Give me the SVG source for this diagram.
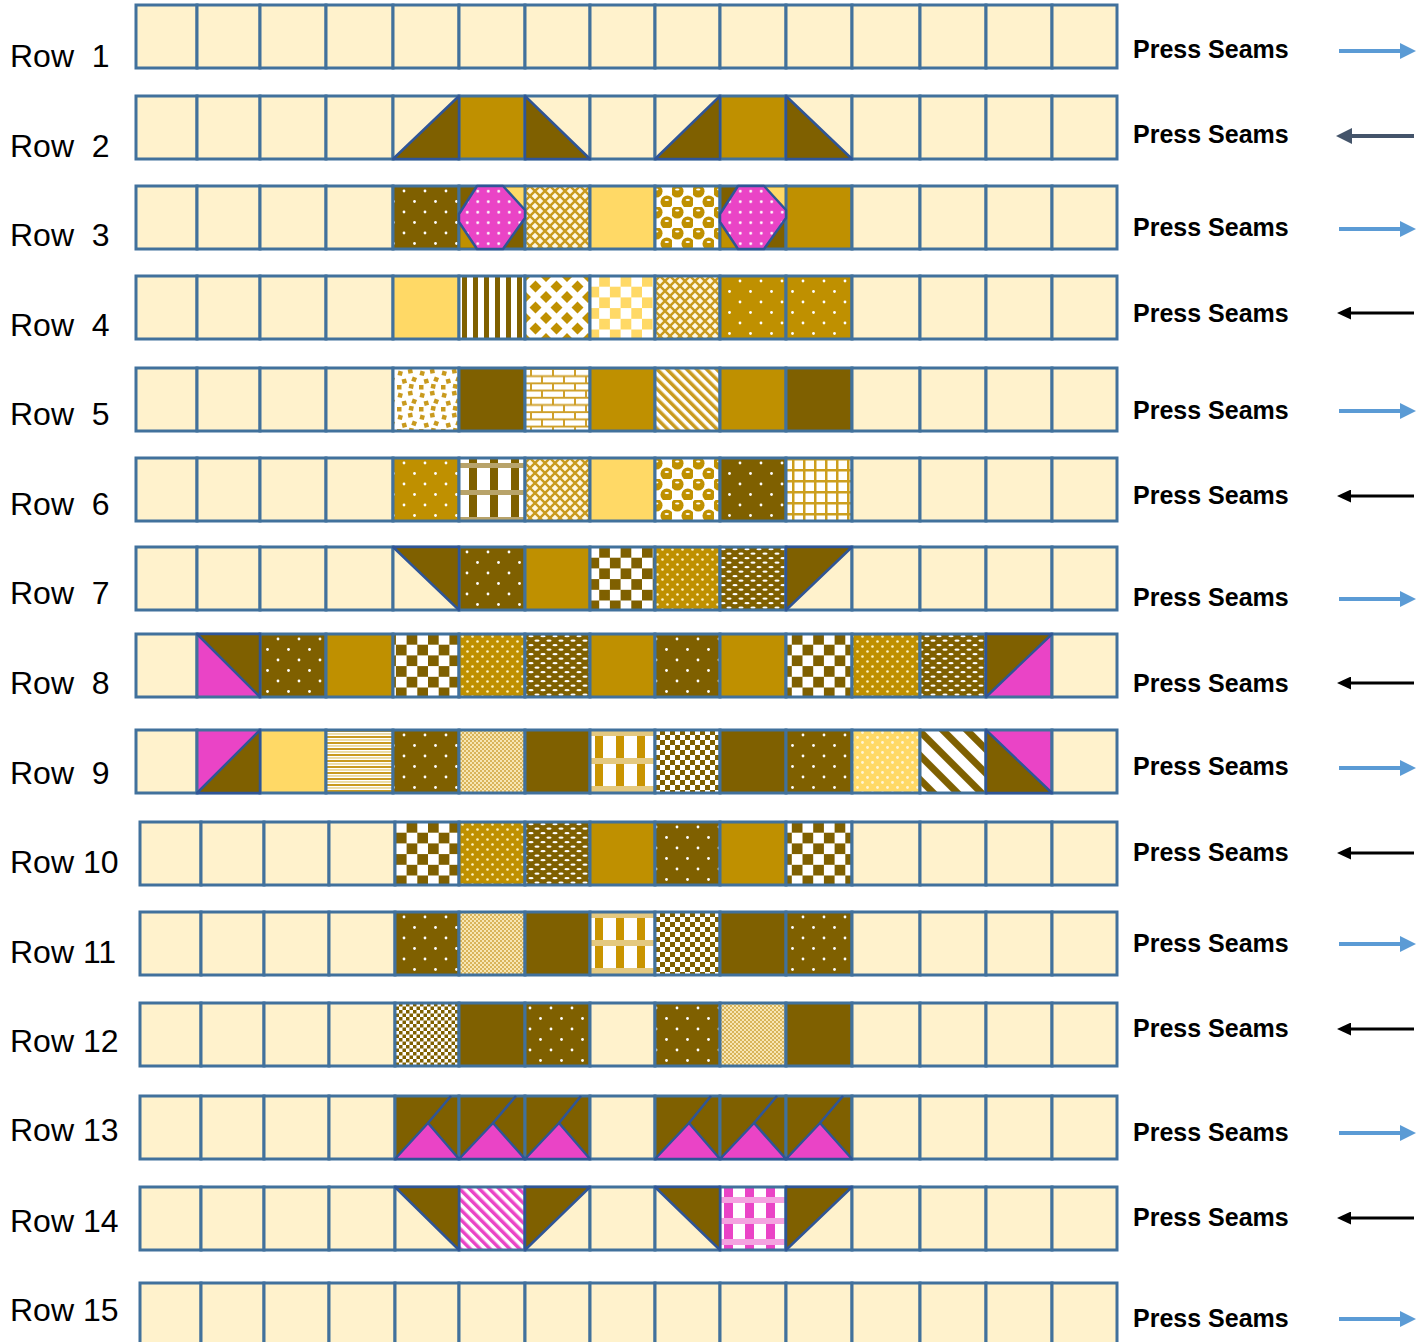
<svg xmlns="http://www.w3.org/2000/svg" width="1427" height="1342" viewBox="0 0 1427 1342">
<style>
.c{fill:#FFF2CC;stroke:#41719C;stroke-width:3}
.sD{fill:#7F6000}.sG{fill:#BF9000}.sY{fill:#FFD966}.sP{fill:#EA44C6}
.dD{fill:url(#p-dD)}.dG{fill:url(#p-dG)}.ddG{fill:url(#p-ddG)}.ov{fill:url(#p-ov)}
.ck{fill:url(#p-ck)}.cks{fill:url(#p-cks)}.ckx{fill:url(#p-ckx)}.fc{fill:url(#p-fc)}
.cr{fill:url(#p-cr)}.bb{fill:url(#p-bb)}.vs{fill:url(#p-vs)}.dm{fill:url(#p-dm)}
.yc{fill:url(#p-yc)}.cf{fill:url(#p-cf)}.br{fill:url(#p-br)}.sg{fill:url(#p-sg)}
.pl{fill:url(#p-pl)}.gr{fill:url(#p-gr)}.hs{fill:url(#p-hs)}.pg{fill:url(#p-pg)}
.dy{fill:url(#p-dy)}.sd{fill:url(#p-sd)}.pst{fill:url(#p-pst)}.pp{fill:url(#p-pp)}
.t{stroke:#2F5597;stroke-width:2.5;stroke-linejoin:round}
.tD{fill:#7F6000}.tP{fill:#EA44C6}.tY{fill:#FFD966}.tG{fill:#BF9000}.tS{fill:url(#p-sn)}
.ln{stroke:#2F5597;stroke-width:2.5}
.lbl{font-family:"Liberation Sans",Arial,sans-serif;font-size:32px;fill:#000}
.press{font-family:"Liberation Sans",Arial,sans-serif;font-weight:bold;font-size:25px;fill:#000}
.ab{stroke:#5B9BD5;stroke-width:4;fill:none;marker-end:url(#m-blue)}
.as{stroke:#44546A;stroke-width:4;fill:none;marker-end:url(#m-slate)}
.ak{stroke:#000;stroke-width:3;fill:none;marker-end:url(#m-black)}
</style>
<defs>
<marker id="m-blue" markerUnits="userSpaceOnUse" markerWidth="16" markerHeight="16" refX="0" refY="8" orient="auto"><path d="M0,0 L16,8 L0,16 Z" fill="#5B9BD5"/></marker>
<marker id="m-slate" markerUnits="userSpaceOnUse" markerWidth="16" markerHeight="16" refX="0" refY="8" orient="auto"><path d="M0,0 L16,8 L0,16 Z" fill="#44546A"/></marker>
<marker id="m-black" markerUnits="userSpaceOnUse" markerWidth="14" markerHeight="13" refX="0" refY="6.5" orient="auto"><path d="M0,0 L14,6.5 L0,13 Z" fill="#000"/></marker>
<pattern id="p-dD" width="21" height="21" patternUnits="userSpaceOnUse"><rect width="21" height="21" fill="#7F6000"/><circle cx="5" cy="5" r="1.4" fill="#FFF"/><circle cx="15.5" cy="15.5" r="1.4" fill="#FFF"/></pattern>
<pattern id="p-dG" width="21" height="21" patternUnits="userSpaceOnUse"><rect width="21" height="21" fill="#BF9000"/><circle cx="5" cy="5" r="1.4" fill="#FFF"/><circle cx="15.5" cy="15.5" r="1.4" fill="#FFF"/></pattern>
<pattern id="p-ddG" width="10" height="10" patternUnits="userSpaceOnUse"><rect width="10" height="10" fill="#BF9000"/><circle cx="2.5" cy="2.5" r="1.3" fill="#FFF3C4"/><circle cx="7.5" cy="7.5" r="1.3" fill="#FFF3C4"/></pattern>
<pattern id="p-ov" width="12" height="9" patternUnits="userSpaceOnUse"><rect width="12" height="9" fill="#7F6000"/><ellipse cx="3" cy="2.2" rx="2.6" ry="1.1" fill="#FFF"/><ellipse cx="9" cy="6.7" rx="2.6" ry="1.1" fill="#FFF"/></pattern>
<pattern id="p-ck" width="21.4" height="21.4" patternUnits="userSpaceOnUse"><rect width="21.4" height="21.4" fill="#FFF"/><rect width="10.7" height="10.7" fill="#7F6000"/><rect x="10.7" y="10.7" width="10.7" height="10.7" fill="#7F6000"/></pattern>
<pattern id="p-cks" width="10" height="10" patternUnits="userSpaceOnUse"><rect width="10" height="10" fill="#FFF"/><rect width="5" height="5" fill="#7F6000"/><rect x="5" y="5" width="5" height="5" fill="#7F6000"/></pattern>
<pattern id="p-ckx" width="7" height="7" patternUnits="userSpaceOnUse"><rect width="7" height="7" fill="#FFF"/><rect width="3.5" height="3.5" fill="#7F6000"/><rect x="3.5" y="3.5" width="3.5" height="3.5" fill="#7F6000"/></pattern>
<pattern id="p-fc" width="4" height="4" patternUnits="userSpaceOnUse"><rect width="4" height="4" fill="#F7E6B4"/><rect width="2" height="2" fill="#D9B45A"/><rect x="2" y="2" width="2" height="2" fill="#D9B45A"/></pattern>
<pattern id="p-cr" width="10" height="10" patternUnits="userSpaceOnUse"><rect width="10" height="10" fill="#FFF7E0"/><path d="M0,0 L10,10 M10,0 L0,10" stroke="#C99A1E" stroke-width="2.4"/></pattern>
<pattern id="p-bb" width="21" height="21" patternUnits="userSpaceOnUse"><rect width="21" height="21" fill="#FFF"/><circle cx="5.25" cy="5.25" r="6.3" fill="#BF9000"/><circle cx="15.75" cy="15.75" r="6.3" fill="#BF9000"/><ellipse cx="5.25" cy="3.4" rx="2.2" ry="1" fill="#FFF"/><ellipse cx="15.75" cy="13.9" rx="2.2" ry="1" fill="#FFF"/></pattern>
<pattern id="p-vs" width="11" height="11" patternUnits="userSpaceOnUse"><rect width="11" height="11" fill="#FFF"/><rect width="5" height="11" fill="#7F6000"/></pattern>
<pattern id="p-dm" width="21" height="21" patternUnits="userSpaceOnUse"><rect width="21" height="21" fill="#FFF"/><path d="M10.5,4.5 L16.5,10.5 L10.5,16.5 L4.5,10.5Z M0,-6 L6,0 L0,6 L-6,0Z M21,-6 L27,0 L21,6 L15,0Z M0,15 L6,21 L0,27 L-6,21Z M21,15 L27,21 L21,27 L15,21Z" fill="#BF9000"/></pattern>
<pattern id="p-yc" width="21.4" height="21.4" patternUnits="userSpaceOnUse"><rect width="21.4" height="21.4" fill="#FFF"/><rect width="10.7" height="10.7" fill="#FFD966"/><rect x="10.7" y="10.7" width="10.7" height="10.7" fill="#FFD966"/></pattern>
<pattern id="p-cf" width="22" height="22" patternUnits="userSpaceOnUse"><rect width="22" height="22" fill="#FFF"/><g fill="#C99A1E"><rect x="2" y="3" width="4.5" height="4.5" transform="rotate(15 4 5)"/><rect x="12" y="1" width="4.5" height="4.5" transform="rotate(-10 14 3)"/><rect x="16" y="9" width="4.5" height="4.5" transform="rotate(20 18 11)"/><rect x="6" y="11" width="4.5" height="4.5" transform="rotate(-15 8 13)"/><rect x="13" y="16" width="4.5" height="4.5" transform="rotate(10 15 18)"/><rect x="1" y="17" width="4.5" height="4.5"/></g></pattern>
<pattern id="p-br" width="22" height="14.4" patternUnits="userSpaceOnUse"><rect width="22" height="14.4" fill="#FFF"/><path d="M0,1 H22 M0,8.2 H22 M3,1 V8.2 M14,8.2 V14.4" stroke="#CFA02A" stroke-width="2"/></pattern>
<pattern id="p-sg" width="7" height="7" patternUnits="userSpaceOnUse" patternTransform="rotate(-45)"><rect width="7" height="7" fill="#FFF"/><rect width="3.5" height="7" fill="#C99A1E"/></pattern>
<pattern id="p-pl" width="21" height="27" patternUnits="userSpaceOnUse"><rect width="21" height="27" fill="#FFF"/><rect x="7" width="8" height="27" fill="#7F6000"/><rect y="5" width="21" height="5" fill="#B8A36A"/></pattern>
<pattern id="p-gr" width="11" height="11" patternUnits="userSpaceOnUse"><rect width="11" height="11" fill="#FFF"/><rect width="2.5" height="11" fill="#CC9E1E"/><rect width="11" height="2.5" fill="#CC9E1E"/></pattern>
<pattern id="p-hs" width="6" height="6" patternUnits="userSpaceOnUse"><rect width="6" height="6" fill="#FFF"/><rect width="6" height="2" fill="#C99A1E"/><rect y="3.2" width="6" height="1.5" fill="#E8D38E"/></pattern>
<pattern id="p-pg" width="21" height="28" patternUnits="userSpaceOnUse"><rect width="21" height="28" fill="#FFF"/><rect x="7" width="8" height="28" fill="#C99400"/><rect y="0" width="21" height="6" fill="#E4C980"/></pattern>
<pattern id="p-dy" width="10" height="10" patternUnits="userSpaceOnUse"><rect width="10" height="10" fill="#FFD966"/><circle cx="2.5" cy="2.5" r="1.4" fill="#FFF6D5"/><circle cx="7.5" cy="7.5" r="1.4" fill="#FFF6D5"/></pattern>
<pattern id="p-sd" width="17" height="17" patternUnits="userSpaceOnUse" patternTransform="rotate(-45)"><rect width="17" height="17" fill="#FFF"/><rect width="7" height="17" fill="#7F6000"/></pattern>
<pattern id="p-pst" width="7" height="7" patternUnits="userSpaceOnUse" patternTransform="rotate(-45)"><rect width="7" height="7" fill="#FFF"/><rect width="3.5" height="7" fill="#EA44C6"/></pattern>
<pattern id="p-pp" width="21" height="21" patternUnits="userSpaceOnUse"><rect width="21" height="21" fill="#FFF"/><rect x="10" width="9" height="21" fill="#EA44C6"/><rect y="10" width="21" height="6" fill="#F4A3E0"/></pattern>
<pattern id="p-sn" width="10.5" height="10.5" patternUnits="userSpaceOnUse"><rect width="10.5" height="10.5" fill="#EA44C6"/><circle cx="5.25" cy="5.25" r="1.4" fill="#FFF"/></pattern>
</defs>
<rect width="1427" height="1342" fill="#FFF"/>

<g id="row-1" transform="translate(0,5)">
<rect class="c" x="136" width="61" height="63"/><rect class="c" x="197" width="63" height="63"/><rect class="c" x="260" width="66" height="63"/><rect class="c" x="326" width="67" height="63"/><rect class="c" x="393" width="66" height="63"/><rect class="c" x="459" width="66" height="63"/><rect class="c" x="525" width="65" height="63"/><rect class="c" x="590" width="65" height="63"/><rect class="c" x="655" width="65" height="63"/><rect class="c" x="720" width="66" height="63"/><rect class="c" x="786" width="66" height="63"/><rect class="c" x="852" width="68" height="63"/><rect class="c" x="920" width="66" height="63"/><rect class="c" x="986" width="66" height="63"/><rect class="c" x="1052" width="65" height="63"/>
</g>

<g id="row-2" transform="translate(0,96)">
<rect class="c" x="136" width="61" height="63"/><rect class="c" x="197" width="63" height="63"/><rect class="c" x="260" width="66" height="63"/><rect class="c" x="326" width="67" height="63"/><rect class="c" x="393" width="66" height="63"/><rect class="c sG" x="459" width="66" height="63"/><rect class="c" x="525" width="65" height="63"/><rect class="c" x="590" width="65" height="63"/><rect class="c" x="655" width="65" height="63"/><rect class="c sG" x="720" width="66" height="63"/><rect class="c" x="786" width="66" height="63"/><rect class="c" x="852" width="68" height="63"/><rect class="c" x="920" width="66" height="63"/><rect class="c" x="986" width="66" height="63"/><rect class="c" x="1052" width="65" height="63"/>
<polygon class="t tD" points="393,63 459,0 459,63"/>
<polygon class="t tD" points="525,0 525,63 590,63"/>
<polygon class="t tD" points="655,63 720,0 720,63"/>
<polygon class="t tD" points="786,0 786,63 852,63"/>
</g>

<g id="row-3" transform="translate(0,186)">
<rect class="c" x="136" width="61" height="63"/><rect class="c" x="197" width="63" height="63"/><rect class="c" x="260" width="66" height="63"/><rect class="c" x="326" width="67" height="63"/><rect class="c dD" x="393" width="66" height="63"/><rect class="c sD" x="459" width="66" height="63"/><rect class="c cr" x="525" width="65" height="63"/><rect class="c sY" x="590" width="65" height="63"/><rect class="c bb" x="655" width="65" height="63"/><rect class="c sD" x="720" width="66" height="63"/><rect class="c sG" x="786" width="66" height="63"/><rect class="c" x="852" width="68" height="63"/><rect class="c" x="920" width="66" height="63"/><rect class="c" x="986" width="66" height="63"/><rect class="c" x="1052" width="65" height="63"/>
<polygon class="tY" points="503,1.5 523.5,1.5 523.5,24"/>
<polygon class="tG" points="460.5,36 460.5,61.5 477,61.5"/>
<polygon class="t tS" points="477,0 503,0 525,24 525,32 503,63 477,63 459,36 459,28"/>
<polygon class="tY" points="764,1.5 784.5,1.5 784.5,24"/>
<polygon class="tG" points="721.5,36 721.5,61.5 738,61.5"/>
<polygon class="t tS" points="738,0 764,0 786,24 786,32 764,63 738,63 720,36 720,28"/>
</g>

<g id="row-4" transform="translate(0,276)">
<rect class="c" x="136" width="61" height="63"/><rect class="c" x="197" width="63" height="63"/><rect class="c" x="260" width="66" height="63"/><rect class="c" x="326" width="67" height="63"/><rect class="c sY" x="393" width="66" height="63"/><rect class="c vs" x="459" width="66" height="63"/><rect class="c dm" x="525" width="65" height="63"/><rect class="c yc" x="590" width="65" height="63"/><rect class="c cr" x="655" width="65" height="63"/><rect class="c dG" x="720" width="66" height="63"/><rect class="c dG" x="786" width="66" height="63"/><rect class="c" x="852" width="68" height="63"/><rect class="c" x="920" width="66" height="63"/><rect class="c" x="986" width="66" height="63"/><rect class="c" x="1052" width="65" height="63"/>
</g>

<g id="row-5" transform="translate(0,368)">
<rect class="c" x="136" width="61" height="63"/><rect class="c" x="197" width="63" height="63"/><rect class="c" x="260" width="66" height="63"/><rect class="c" x="326" width="67" height="63"/><rect class="c cf" x="393" width="66" height="63"/><rect class="c sD" x="459" width="66" height="63"/><rect class="c br" x="525" width="65" height="63"/><rect class="c sG" x="590" width="65" height="63"/><rect class="c sg" x="655" width="65" height="63"/><rect class="c sG" x="720" width="66" height="63"/><rect class="c sD" x="786" width="66" height="63"/><rect class="c" x="852" width="68" height="63"/><rect class="c" x="920" width="66" height="63"/><rect class="c" x="986" width="66" height="63"/><rect class="c" x="1052" width="65" height="63"/>
</g>

<g id="row-6" transform="translate(0,458)">
<rect class="c" x="136" width="61" height="63"/><rect class="c" x="197" width="63" height="63"/><rect class="c" x="260" width="66" height="63"/><rect class="c" x="326" width="67" height="63"/><rect class="c dG" x="393" width="66" height="63"/><rect class="c pl" x="459" width="66" height="63"/><rect class="c cr" x="525" width="65" height="63"/><rect class="c sY" x="590" width="65" height="63"/><rect class="c bb" x="655" width="65" height="63"/><rect class="c dD" x="720" width="66" height="63"/><rect class="c gr" x="786" width="66" height="63"/><rect class="c" x="852" width="68" height="63"/><rect class="c" x="920" width="66" height="63"/><rect class="c" x="986" width="66" height="63"/><rect class="c" x="1052" width="65" height="63"/>
</g>

<g id="row-7" transform="translate(0,547)">
<rect class="c" x="136" width="61" height="63"/><rect class="c" x="197" width="63" height="63"/><rect class="c" x="260" width="66" height="63"/><rect class="c" x="326" width="67" height="63"/><rect class="c" x="393" width="66" height="63"/><rect class="c dD" x="459" width="66" height="63"/><rect class="c sG" x="525" width="65" height="63"/><rect class="c ck" x="590" width="65" height="63"/><rect class="c ddG" x="655" width="65" height="63"/><rect class="c ov" x="720" width="66" height="63"/><rect class="c" x="786" width="66" height="63"/><rect class="c" x="852" width="68" height="63"/><rect class="c" x="920" width="66" height="63"/><rect class="c" x="986" width="66" height="63"/><rect class="c" x="1052" width="65" height="63"/>
<polygon class="t tD" points="393,0 459,0 459,63"/>
<polygon class="t tD" points="786,0 852,0 786,63"/>
</g>

<g id="row-8" transform="translate(0,634)">
<rect class="c" x="136" width="61" height="63"/><rect class="c sP" x="197" width="63" height="63"/><rect class="c dD" x="260" width="66" height="63"/><rect class="c sG" x="326" width="67" height="63"/><rect class="c ck" x="393" width="66" height="63"/><rect class="c ddG" x="459" width="66" height="63"/><rect class="c ov" x="525" width="65" height="63"/><rect class="c sG" x="590" width="65" height="63"/><rect class="c dD" x="655" width="65" height="63"/><rect class="c sG" x="720" width="66" height="63"/><rect class="c ck" x="786" width="66" height="63"/><rect class="c ddG" x="852" width="68" height="63"/><rect class="c ov" x="920" width="66" height="63"/><rect class="c sP" x="986" width="66" height="63"/><rect class="c" x="1052" width="65" height="63"/>
<polygon class="t tD" points="197,0 260,0 260,63"/>
<polygon class="t tD" points="986,0 1052,0 986,63"/>
</g>

<g id="row-9" transform="translate(0,730)">
<rect class="c" x="136" width="61" height="63"/><rect class="c sP" x="197" width="63" height="63"/><rect class="c sY" x="260" width="66" height="63"/><rect class="c hs" x="326" width="67" height="63"/><rect class="c dD" x="393" width="66" height="63"/><rect class="c fc" x="459" width="66" height="63"/><rect class="c sD" x="525" width="65" height="63"/><rect class="c pg" x="590" width="65" height="63"/><rect class="c cks" x="655" width="65" height="63"/><rect class="c sD" x="720" width="66" height="63"/><rect class="c dD" x="786" width="66" height="63"/><rect class="c dy" x="852" width="68" height="63"/><rect class="c sd" x="920" width="66" height="63"/><rect class="c sP" x="986" width="66" height="63"/><rect class="c" x="1052" width="65" height="63"/>
<polygon class="t tD" points="197,63 260,0 260,63"/>
<polygon class="t tD" points="986,0 986,63 1052,63"/>
</g>

<g id="row-10" transform="translate(0,822)">
<rect class="c" x="140" width="61" height="63"/><rect class="c" x="201" width="63" height="63"/><rect class="c" x="264" width="65" height="63"/><rect class="c" x="329" width="66" height="63"/><rect class="c ck" x="395" width="64" height="63"/><rect class="c ddG" x="459" width="66" height="63"/><rect class="c ov" x="525" width="65" height="63"/><rect class="c sG" x="590" width="65" height="63"/><rect class="c dD" x="655" width="65" height="63"/><rect class="c sG" x="720" width="66" height="63"/><rect class="c ck" x="786" width="66" height="63"/><rect class="c" x="852" width="68" height="63"/><rect class="c" x="920" width="66" height="63"/><rect class="c" x="986" width="66" height="63"/><rect class="c" x="1052" width="65" height="63"/>
</g>

<g id="row-11" transform="translate(0,912)">
<rect class="c" x="140" width="61" height="63"/><rect class="c" x="201" width="63" height="63"/><rect class="c" x="264" width="65" height="63"/><rect class="c" x="329" width="66" height="63"/><rect class="c dD" x="395" width="64" height="63"/><rect class="c fc" x="459" width="66" height="63"/><rect class="c sD" x="525" width="65" height="63"/><rect class="c pg" x="590" width="65" height="63"/><rect class="c cks" x="655" width="65" height="63"/><rect class="c sD" x="720" width="66" height="63"/><rect class="c dD" x="786" width="66" height="63"/><rect class="c" x="852" width="68" height="63"/><rect class="c" x="920" width="66" height="63"/><rect class="c" x="986" width="66" height="63"/><rect class="c" x="1052" width="65" height="63"/>
</g>

<g id="row-12" transform="translate(0,1003)">
<rect class="c" x="140" width="61" height="63"/><rect class="c" x="201" width="63" height="63"/><rect class="c" x="264" width="65" height="63"/><rect class="c" x="329" width="66" height="63"/><rect class="c ckx" x="395" width="64" height="63"/><rect class="c sD" x="459" width="66" height="63"/><rect class="c dD" x="525" width="65" height="63"/><rect class="c" x="590" width="65" height="63"/><rect class="c dD" x="655" width="65" height="63"/><rect class="c fc" x="720" width="66" height="63"/><rect class="c sD" x="786" width="66" height="63"/><rect class="c" x="852" width="68" height="63"/><rect class="c" x="920" width="66" height="63"/><rect class="c" x="986" width="66" height="63"/><rect class="c" x="1052" width="65" height="63"/>
</g>

<g id="row-13" transform="translate(0,1096)">
<rect class="c" x="140" width="61" height="63"/><rect class="c" x="201" width="63" height="63"/><rect class="c" x="264" width="65" height="63"/><rect class="c" x="329" width="66" height="63"/><rect class="c sD" x="395" width="64" height="63"/><rect class="c sD" x="459" width="66" height="63"/><rect class="c sD" x="525" width="65" height="63"/><rect class="c" x="590" width="65" height="63"/><rect class="c sD" x="655" width="65" height="63"/><rect class="c sD" x="720" width="66" height="63"/><rect class="c sD" x="786" width="66" height="63"/><rect class="c" x="852" width="68" height="63"/><rect class="c" x="920" width="66" height="63"/><rect class="c" x="986" width="66" height="63"/><rect class="c" x="1052" width="65" height="63"/>
<line class="ln" x1="428" y1="27" x2="451" y2="0"/><polygon class="t tP" points="395,63 459,63 428,27"/>
<line class="ln" x1="493" y1="27" x2="516" y2="0"/><polygon class="t tP" points="459,63 525,63 493,27"/>
<line class="ln" x1="559" y1="27" x2="581" y2="0"/><polygon class="t tP" points="525,63 590,63 559,27"/>
<line class="ln" x1="689" y1="27" x2="711" y2="0"/><polygon class="t tP" points="655,63 720,63 689,27"/>
<line class="ln" x1="754" y1="27" x2="777" y2="0"/><polygon class="t tP" points="720,63 786,63 754,27"/>
<line class="ln" x1="820" y1="27" x2="843" y2="0"/><polygon class="t tP" points="786,63 852,63 820,27"/>
</g>

<g id="row-14" transform="translate(0,1187)">
<rect class="c" x="140" width="61" height="63"/><rect class="c" x="201" width="63" height="63"/><rect class="c" x="264" width="65" height="63"/><rect class="c" x="329" width="66" height="63"/><rect class="c" x="395" width="64" height="63"/><rect class="c pst" x="459" width="66" height="63"/><rect class="c" x="525" width="65" height="63"/><rect class="c" x="590" width="65" height="63"/><rect class="c" x="655" width="65" height="63"/><rect class="c pp" x="720" width="66" height="63"/><rect class="c" x="786" width="66" height="63"/><rect class="c" x="852" width="68" height="63"/><rect class="c" x="920" width="66" height="63"/><rect class="c" x="986" width="66" height="63"/><rect class="c" x="1052" width="65" height="63"/>
<polygon class="t tD" points="395,0 459,0 459,63"/>
<polygon class="t tD" points="525,0 590,0 525,63"/>
<polygon class="t tD" points="655,0 720,0 720,63"/>
<polygon class="t tD" points="786,0 852,0 786,63"/>
</g>

<g id="row-15" transform="translate(0,1283)">
<rect class="c" x="140" width="61" height="63"/><rect class="c" x="201" width="63" height="63"/><rect class="c" x="264" width="65" height="63"/><rect class="c" x="329" width="66" height="63"/><rect class="c" x="395" width="64" height="63"/><rect class="c" x="459" width="66" height="63"/><rect class="c" x="525" width="65" height="63"/><rect class="c" x="590" width="65" height="63"/><rect class="c" x="655" width="65" height="63"/><rect class="c" x="720" width="66" height="63"/><rect class="c" x="786" width="66" height="63"/><rect class="c" x="852" width="68" height="63"/><rect class="c" x="920" width="66" height="63"/><rect class="c" x="986" width="66" height="63"/><rect class="c" x="1052" width="65" height="63"/>
</g>

<g id="row-labels" class="lbl">
<text x="10" y="67">Row &#160;1</text>
<text x="10" y="157">Row &#160;2</text>
<text x="10" y="246">Row &#160;3</text>
<text x="10" y="336">Row &#160;4</text>
<text x="10" y="425">Row &#160;5</text>
<text x="10" y="515">Row &#160;6</text>
<text x="10" y="604">Row &#160;7</text>
<text x="10" y="694">Row &#160;8</text>
<text x="10" y="784">Row &#160;9</text>
<text x="10" y="873">Row 10</text>
<text x="10" y="963">Row 11</text>
<text x="10" y="1052">Row 12</text>
<text x="10" y="1141">Row 13</text>
<text x="10" y="1232">Row 14</text>
<text x="10" y="1321">Row 15</text>
</g>

<g id="press-labels" class="press">
<text x="1133" y="58">Press Seams</text>
<text x="1133" y="143">Press Seams</text>
<text x="1133" y="236">Press Seams</text>
<text x="1133" y="322">Press Seams</text>
<text x="1133" y="419">Press Seams</text>
<text x="1133" y="504">Press Seams</text>
<text x="1133" y="606">Press Seams</text>
<text x="1133" y="692">Press Seams</text>
<text x="1133" y="775">Press Seams</text>
<text x="1133" y="861">Press Seams</text>
<text x="1133" y="952">Press Seams</text>
<text x="1133" y="1037">Press Seams</text>
<text x="1133" y="1141">Press Seams</text>
<text x="1133" y="1226">Press Seams</text>
<text x="1133" y="1327">Press Seams</text>
</g>

<g id="arrows">
<line class="ab" x1="1339" y1="51" x2="1400" y2="51"/>
<line class="as" x1="1414" y1="136" x2="1352" y2="136"/>
<line class="ab" x1="1339" y1="229" x2="1400" y2="229"/>
<line class="ak" x1="1414" y1="313" x2="1351" y2="313"/>
<line class="ab" x1="1339" y1="411" x2="1400" y2="411"/>
<line class="ak" x1="1414" y1="496" x2="1351" y2="496"/>
<line class="ab" x1="1339" y1="599" x2="1400" y2="599"/>
<line class="ak" x1="1414" y1="683" x2="1351" y2="683"/>
<line class="ab" x1="1339" y1="768" x2="1400" y2="768"/>
<line class="ak" x1="1414" y1="853" x2="1351" y2="853"/>
<line class="ab" x1="1339" y1="944" x2="1400" y2="944"/>
<line class="ak" x1="1414" y1="1029" x2="1351" y2="1029"/>
<line class="ab" x1="1339" y1="1133" x2="1400" y2="1133"/>
<line class="ak" x1="1414" y1="1218" x2="1351" y2="1218"/>
<line class="ab" x1="1339" y1="1319" x2="1400" y2="1319"/>
</g>
</svg>
